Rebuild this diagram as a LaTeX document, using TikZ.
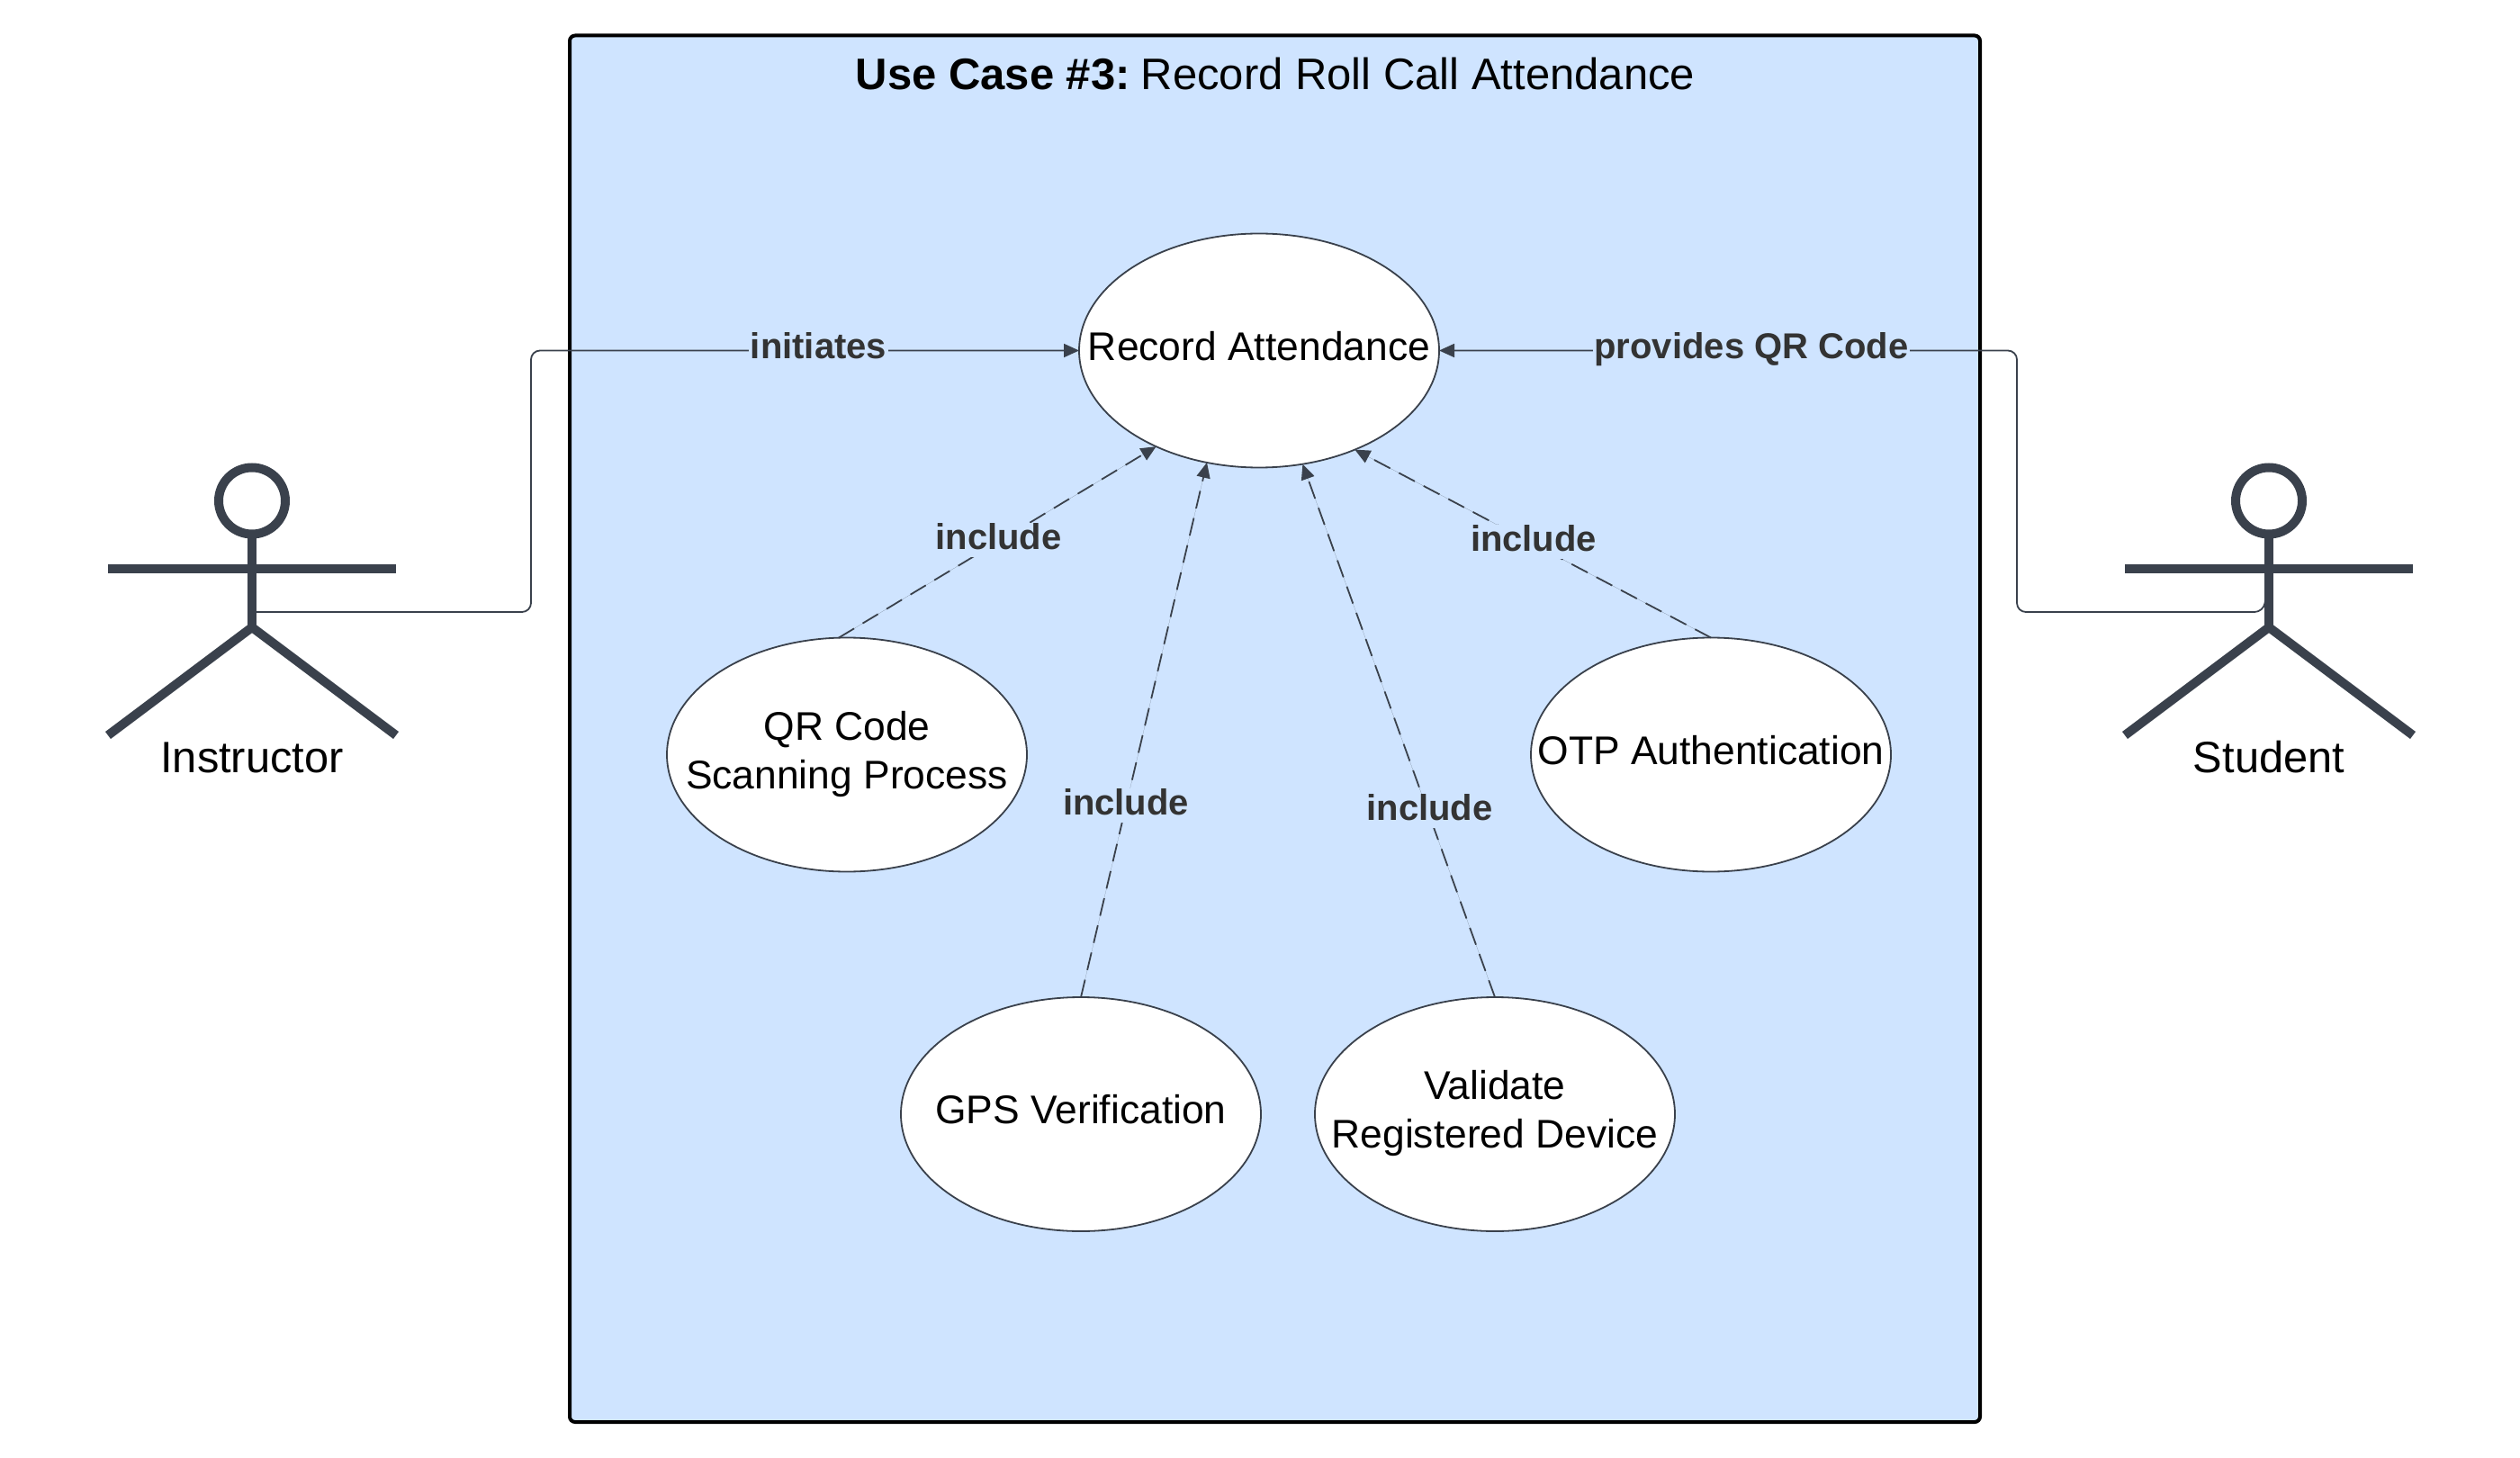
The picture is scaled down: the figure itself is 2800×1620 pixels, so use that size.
\documentclass[tikz,border=0pt]{standalone}
\usepackage{fontspec}
\setmainfont{Liberation Sans}
\usetikzlibrary{shapes.geometric,arrows.meta}
\definecolor{boxblue}{HTML}{CFE4FF}
\definecolor{ink}{HTML}{3A414C}
\definecolor{labelink}{HTML}{333333}
\newcommand{\uctext}[2][0pt]{\raisebox{#1}{\makebox[0pt][c]{\begin{tabular}{@{}c@{}}#2\end{tabular}}}}
\tikzset{
  usecase/.style={ellipse,draw=ink,line width=0.9pt,fill=white,minimum width=200pt,minimum height=130pt,inner sep=0pt,outer sep=0pt,text=black,font=\fontsize{22.2}{27}\selectfont},
  actorline/.style={draw=ink,line width=5pt,line cap=butt},
  actorname/.style={text=black,font=\fontsize{24.4}{28}\selectfont,inner sep=0pt},
  link/.style={draw=ink,line width=0.9pt,rounded corners=5pt,-{Triangle[length=8.5pt,width=7.5pt]}},
  inclink/.style={draw=ink,fill=ink,line width=0.9pt,dash pattern=on 10pt off 5.5pt,-{Triangle[length=8.5pt,width=7.5pt,fill=ink]}},
  linklabel/.style={fill=boxblue,text=labelink,font=\bfseries\fontsize{20}{24}\selectfont,inner xsep=1pt,inner ysep=0pt,text height=15pt,text depth=4pt},
}
\begin{document}
\begin{tikzpicture}[x=0.5pt,y=-0.5pt]
\useasboundingbox (0,0) rectangle (2800,1620);
% system box
\draw[fill=boxblue,draw=black,line width=2pt,rounded corners=3pt] (633,39.5) rectangle (2200,1580);
\node[text=black,font=\fontsize{24.5}{28}\selectfont,inner sep=0pt] (title) at (1417,82) {\textbf{Use Case \#3:}\hspace{6pt}Record Roll Call Attendance};
% use cases
\node[usecase] (main) at (1399,389.5) {\uctext[-1pt]{Record Attendance}};
\node[usecase] (qr) at (941,838.5) {\uctext[1pt]{QR Code\\Scanning Process}};
\node[usecase] (otp) at (1901,838.5) {\uctext[-1pt]{OTP Authentication}};
\node[usecase] (gps) at (1201,1238) {\uctext[-1pt]{GPS Verification}};
\node[usecase] (dev) at (1661,1238) {\uctext[1pt]{Validate\\Registered Device}};
% actors
\draw[actorline] (280,556.5) circle[radius=37];
\draw[actorline] (280,593) -- (280,700);
\draw[actorline] (120,632) -- (440,632);
\draw[actorline] (120,817) -- (280,697) -- (440,817);
\node[actorname] (instructor) at (280,841.5) {Instructor};
\coordinate (instrPort) at (285,680);
\draw[actorline] (2521,556.5) circle[radius=37];
\draw[actorline] (2521,593) -- (2521,700);
\draw[actorline] (2361,632) -- (2681,632);
\draw[actorline] (2361,817) -- (2521,697) -- (2681,817);
\node[actorname] (student) at (2521,841) {Student};
\coordinate (stuPort) at (2517,667);
% connectors
\draw[link] (instrPort) -- (590,680) -- (590,389.5) -- (main.west);
\draw[link] (stuPort) -- (2515,680) -- (2241,680) -- (2241,389.5) -- (main.east);
\draw[inclink] (qr.94) -- (main.223.7);
\draw[inclink] (gps.north) -- (main.245.8);
\draw[inclink] (dev.north) -- (main.291.3);
\draw[inclink] (otp.north) -- (main.314.7);
% labels
\node[linklabel] (l1) at (909.5,387.5) {initiates};
\node[linklabel] (l2) at (1946,387.5) {provides QR Code};
\node[linklabel] (l3) at (1109.5,599.8) {include};
\node[linklabel] (l4) at (1251,894.6) {include};
\node[linklabel] (l5) at (1588.5,900.6) {include};
\node[linklabel] (l6) at (1704,601.8) {include};
\end{tikzpicture}
\end{document}
